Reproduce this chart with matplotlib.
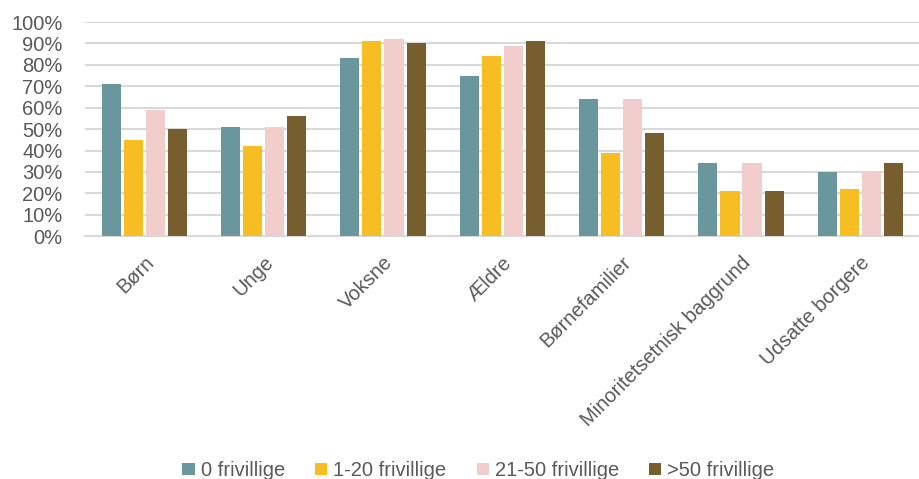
import matplotlib.pyplot as plt
import numpy as np

categories = ["Børn", "Unge", "Voksne", "Ældre", "Børnefamilier",
              "Minoritetsetnisk baggrund", "Udsatte borgere"]
series_names = ["0 frivillige", "1-20 frivillige", "21-50 frivillige", ">50 frivillige"]
v0 = [71, 51, 83, 75, 64, 34, 30]
v1_20 = [45, 42, 91, 84, 39, 21, 22]
v21_50 = [59, 51, 92, 89, 64, 34, 30]
v50 = [50, 56, 90, 91, 48, 21, 34]
colors = ["#6A969E", "#F6BE22", "#F1CECC", "#775E2F"]

plt.rcParams['font.family'] = ['Liberation Sans', 'DejaVu Sans']
text_col = "#595959"

fig = plt.figure(figsize=(9.2, 4.79), dpi=100)
ax = fig.add_axes([0.092, 0.507, 0.908, 0.447])

x = np.arange(len(categories))
step = 0.185
width = 0.16
for i, (vals, name) in enumerate(zip([v0, v1_20, v21_50, v50], series_names)):
    ax.bar(x + (i - 1.5) * step, vals, width, color=colors[i], label=name, zorder=3)

ax.set_xlim(-0.5, len(categories) - 0.5)
ax.set_ylim(0, 100)
ax.set_yticks(range(0, 101, 10))
ax.set_yticklabels([f"{t}%" for t in range(0, 101, 10)], fontsize=14.5, color=text_col)
ax.yaxis.grid(True, color="#D9D9D9", linewidth=1.5, zorder=0)
ax.set_xticks(x)
ax.set_xticklabels(categories, rotation=45, ha="right", rotation_mode="anchor",
                   fontsize=14.5, color=text_col)
ax.tick_params(axis="x", length=0, pad=12)
ax.tick_params(axis="y", length=0, pad=16)
for s in ["top", "right", "left"]:
    ax.spines[s].set_visible(False)
ax.spines["bottom"].set_color("#D9D9D9")
ax.spines["bottom"].set_linewidth(1.5)

fig.legend(loc="lower center", bbox_to_anchor=(0.52, -0.04), ncol=4, frameon=False,
           fontsize=14.5, labelcolor=text_col, handlelength=0.6, handleheight=0.6,
           handletextpad=0.3, columnspacing=1.5)

fig.savefig("out.png", dpi=100)
